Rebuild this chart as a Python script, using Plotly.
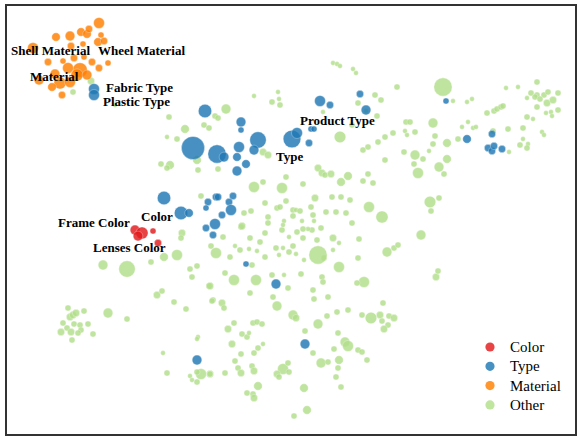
import plotly.graph_objects as go

# Embedding of attribute names; coordinates are in embedding units (x right, y down)
color_x = [135, 142, 138, 153, 158]
color_y = [230, 233, 236, 231, 243]
color_s = [8, 10, 8, 5, 6]

type_x = [94, 94, 320, 330, 205, 241, 241, 193, 217, 224, 239, 237, 246, 237, 258, 254,
          292, 297, 309, 311, 314, 360, 366, 164, 181, 189, 216, 218, 208, 206, 233, 229,
          231, 222, 215, 206, 213, 246, 276, 305, 197, 446, 467, 492, 488, 492, 494, 502]
type_y = [89, 95, 101, 105, 111, 122, 130, 148, 154, 157, 147, 157, 164, 171, 140, 150,
          139, 133, 143, 129, 129, 94, 110, 198, 213, 213, 197, 197, 202, 208, 196, 202,
          210, 215, 224, 228, 235, 264, 284, 344, 360, 101, 139, 134, 148, 151, 146, 149]
type_s = [9, 9, 9, 6, 11, 8, 5, 19, 15, 8, 9, 7, 7, 8, 13.5, 8,
          14.5, 9, 6, 5, 5, 6, 8, 11, 11, 7, 6, 6, 6, 5, 6, 6,
          9, 6, 9, 6, 6, 5, 8, 8, 8, 5, 7, 6, 6, 6, 6, 6]

material_x = [99, 56, 70, 81, 87, 89, 101, 33, 71, 83, 98, 104, 108, 48, 63, 74, 84, 92,
              99, 80, 68, 60, 39, 52, 62, 77, 87, 70, 55]
material_y = [23, 37, 36, 32, 34, 29, 35, 48, 46, 44, 42, 41, 63, 62, 61, 58, 57, 62,
              68, 70, 68, 83, 80, 87, 95, 75, 75, 82, 74]
material_s = [9, 7, 8, 7, 7, 6, 5, 9, 6, 5, 7, 6, 5, 6, 5, 6, 5, 6,
              6, 12, 9, 10, 8, 7, 6, 10, 8, 9, 8]

other_pts = [
    (91, 81, 6), (73, 92, 5), (115, 105, 4), (169, 117, 5), (185, 129, 7),
    (254, 96, 4), (278, 92, 4), (272, 102, 5), (279, 99, 4), (280, 105, 5),
    (226, 109, 8), (215, 116, 5), (218, 118, 5), (204, 125, 5), (209, 128, 5),
    (177, 139, 5), (167, 137, 4), (161, 164, 5), (170, 165, 7), (167, 168, 5),
    (197, 160, 7), (198, 170, 5), (218, 169, 5), (263, 152, 6), (268, 155, 6),
    (254, 187, 9), (263, 182, 5), (282, 188, 9), (286, 177, 5), (303, 184, 5),
    (318, 168, 6), (322, 173, 6), (325, 175, 5), (331, 174, 6),
    (341, 182, 7), (348, 176, 7), (363, 181, 5), (373, 183, 5), (368, 174, 5),
    (363, 150, 5), (368, 147, 5), (378, 142, 5), (385, 137, 5), (393, 133, 5),
    (404, 152, 5), (415, 155, 8), (423, 159, 5), (433, 144, 5), (414, 164, 5),
    (418, 173, 9), (430, 202, 9.5), (431, 211, 5), (439, 198, 5), (385, 160, 5),
    (201, 196, 5), (244, 213, 5), (241, 227, 5), (251, 211, 5), (265, 203, 5),
    (268, 217, 5), (286, 201, 5), (277, 208, 5), (280, 207, 5), (293, 210, 5),
    (296, 210, 4), (300, 211, 5), (311, 207, 5), (315, 198, 6), (332, 197, 5),
    (341, 197, 5), (350, 200, 5), (369, 207, 9), (382, 217, 10), (326, 212, 5),
    (336, 212, 5), (346, 213, 5), (284, 221, 4), (293, 216, 5), (302, 221, 4),
    (313, 215, 5), (314, 221, 4), (321, 228, 5), (312, 230, 5), (308, 229, 4),
    (303, 229, 5), (297, 232, 5), (289, 237, 4), (282, 230, 5), (283, 225, 4),
    (265, 233, 5), (268, 223, 5), (260, 242, 5), (250, 238, 5), (242, 226, 6),
    (223, 237, 5), (211, 246, 5), (235, 246, 4), (240, 250, 5), (249, 249, 4),
    (257, 251, 4), (276, 248, 5), (283, 248, 4), (293, 246, 5), (303, 238, 5),
    (317, 240, 5), (333, 238, 6), (339, 243, 4), (352, 223, 5), (359, 239, 5),
    (333, 250, 4), (324, 258, 5), (318, 255, 15), (304, 260, 4), (296, 254, 4),
    (289, 252, 5), (279, 255, 4), (265, 257, 5), (216, 253, 9), (230, 257, 5),
    (177, 255, 9), (164, 257, 7), (151, 262, 5), (103, 265, 8), (127, 269, 13.5),
    (182, 233, 6), (181, 238, 5), (190, 269, 5), (197, 266, 5), (192, 277, 5),
    (225, 273, 5), (234, 280, 9), (209, 286, 5), (252, 265, 5), (256, 280, 9),
    (272, 275, 5), (284, 275, 4), (301, 274, 5), (322, 277, 5), (323, 282, 5),
    (339, 267, 9), (358, 258, 5), (364, 282, 9), (357, 283, 5),
    (387, 252, 8), (394, 248, 5), (398, 245, 5), (421, 235, 8), (436, 277, 6),
    (438, 271, 5), (288, 288, 5), (313, 290, 5), (328, 297, 5), (314, 299, 5),
    (277, 306, 8), (273, 297, 5), (250, 293, 5), (222, 303, 6), (224, 308, 5),
    (213, 300, 5), (186, 309, 5), (174, 302, 5), (157, 295, 6), (162, 291, 5),
    (210, 286, 6), (212, 301, 5), (293, 315, 8), (296, 318, 6), (327, 316, 5),
    (337, 312, 5), (348, 310, 5), (362, 315, 5), (371, 318, 9.5), (380, 315, 6),
    (382, 321, 5), (389, 316, 5), (394, 318, 6), (388, 325, 5), (384, 329, 6),
    (383, 303, 5), (318, 324, 8), (305, 331, 5), (228, 329, 6), (234, 323, 5),
    (253, 323, 5), (257, 322, 5), (262, 324, 5), (242, 334, 5), (247, 337, 5),
    (249, 333, 4), (232, 344, 6), (254, 353, 5), (258, 348, 5), (263, 344, 4),
    (241, 354, 5), (235, 361, 5), (238, 368, 5), (241, 373, 6), (252, 366, 5),
    (254, 371, 6), (225, 373, 5), (210, 374, 6), (201, 374, 9), (283, 369, 9),
    (277, 374, 6), (279, 377, 5), (288, 363, 5), (289, 372, 5), (258, 386, 7),
    (247, 393, 5), (253, 394, 5), (254, 398, 6), (304, 388, 7), (307, 410, 7),
    (294, 416, 5), (313, 353, 5), (321, 363, 8), (328, 362, 5), (338, 333, 5),
    (334, 349, 5), (345, 342, 8), (348, 346, 9), (339, 360, 7), (338, 368, 5),
    (336, 377, 5), (341, 387, 5), (358, 350, 5), (362, 352, 5), (367, 360, 5),
    (68, 308, 5), (70, 317, 6), (73, 315, 6), (76, 313, 6), (84, 311, 5),
    (63, 323, 5), (74, 324, 5), (80, 325, 5), (81, 330, 5), (88, 324, 5),
    (61, 332, 6), (67, 328, 5), (71, 332, 6), (78, 333, 5), (93, 334, 5),
    (72, 340, 5), (108, 313, 8), (127, 319, 5), (198, 337, 4), (197, 339, 4),
    (163, 353, 4), (167, 373, 5), (190, 376, 4), (197, 372, 5), (192, 380, 4),
    (197, 382, 5), (210, 374, 5),
    (333, 63, 4), (337, 64, 4), (340, 66, 4), (353, 69, 4), (356, 73, 4),
    (397, 87, 5), (443, 87, 15), (453, 101, 4), (467, 102, 4), (472, 99, 4),
    (506, 88, 4), (518, 87, 4), (537, 82, 5), (531, 93, 5), (537, 95, 5),
    (544, 95, 5), (548, 92, 5), (558, 93, 5), (527, 98, 4), (535, 97, 5),
    (540, 99, 5), (547, 103, 6), (553, 100, 6), (537, 107, 5), (546, 113, 4),
    (551, 112, 4), (552, 116, 4), (558, 110, 5), (375, 95, 5), (381, 100, 5),
    (358, 103, 5), (323, 112, 4), (377, 116, 5), (352, 125, 5), (340, 137, 9.5),
    (366, 111, 4), (405, 131, 4), (407, 135, 4), (406, 122, 5), (410, 122, 5),
    (415, 132, 5), (433, 123, 8), (435, 136, 5), (447, 143, 7), (458, 139, 5),
    (462, 127, 4), (468, 122, 4), (473, 128, 4), (476, 127, 4), (487, 113, 5),
    (494, 111, 5), (497, 109, 5), (501, 107, 5), (503, 106, 5), (508, 129, 5),
    (523, 128, 5), (493, 131, 5), (527, 117, 5), (533, 119, 4), (542, 132, 4),
    (544, 135, 4), (520, 145, 5), (523, 139, 4), (528, 144, 4), (527, 148, 5),
    (509, 152, 4), (429, 151, 4), (447, 159, 7), (439, 167, 8), (444, 174, 5),
]
other_x = [p[0] for p in other_pts]
other_y = [p[1] for p in other_pts]
other_s = [p[2] for p in other_pts]

label_text = ["Shell Material", "Wheel Material", "Material", "Fabric Type", "Plastic Type",
              "Product Type", "Type", "Color", "Frame Color", "Lenses Color"]
label_x = [50, 141, 54, 139, 136, 337, 289, 157, 94, 129]
label_y = [50, 50, 76, 87, 101, 120, 156, 216, 222, 247]

categories = ["Color", "Type", "Material", "Other"]
cat_colors = {"Color": "#e31a1c", "Type": "#1f78b4", "Material": "#ff7f00", "Other": "#b2df8a"}
ALPHA = 0.82
SIZEREF = 0.82  # markers drawn at size / SIZEREF

fig = go.Figure()
series = {
    "Other": (other_x, other_y, other_s),
    "Material": (material_x, material_y, material_s),
    "Type": (type_x, type_y, type_s),
    "Color": (color_x, color_y, color_s),
}
for name in ["Other", "Material", "Type", "Color"]:
    xs, ys, ss = series[name]
    fig.add_trace(go.Scatter(
        x=xs, y=ys, mode="markers", name=name, showlegend=False, hoverinfo="skip",
        marker=dict(size=ss, sizemode="diameter", sizeref=SIZEREF,
                    color=cat_colors[name], opacity=ALPHA,
                    line=dict(width=0.6, color="rgba(255,255,255,0.6)")),
    ))

for t, x, y in zip(label_text, label_x, label_y):
    fig.add_annotation(x=x, y=y, text=t, showarrow=False, xref="x", yref="y",
                       font=dict(family="Liberation Serif", size=13, color="black", weight="bold"))

# compact legend in the lower-right corner (paper coordinates)
W, H = 580, 437
key_x, text_x, top_y, step, r = 490, 508, 347, 19.3, 4.6
for i, name in enumerate(categories):
    cy = top_y + i * step
    fig.add_shape(type="circle", xref="paper", yref="paper",
                  x0=(key_x - r) / W, x1=(key_x + r) / W,
                  y0=1 - (cy + r) / H, y1=1 - (cy - r) / H,
                  fillcolor=cat_colors[name], opacity=ALPHA, line=dict(width=0))
    fig.add_annotation(x=text_x / W, y=1 - cy / H, xref="paper", yref="paper",
                       text=name, showarrow=False, xanchor="left", yanchor="middle",
                       font=dict(family="Liberation Serif", size=15, color="black"))

fig.add_shape(type="rect", xref="paper", yref="paper",
              x0=6 / W, x1=576 / W, y0=1 - 435 / H, y1=1 - 5 / H,
              line=dict(color="#333333", width=2))

fig.update_layout(
    width=W, height=H, margin=dict(l=0, r=0, t=0, b=0),
    paper_bgcolor="white", plot_bgcolor="white", showlegend=False,
    xaxis=dict(range=[0, 580], visible=False),
    yaxis=dict(range=[437, 0], visible=False),
)

fig.write_html("out.html")
